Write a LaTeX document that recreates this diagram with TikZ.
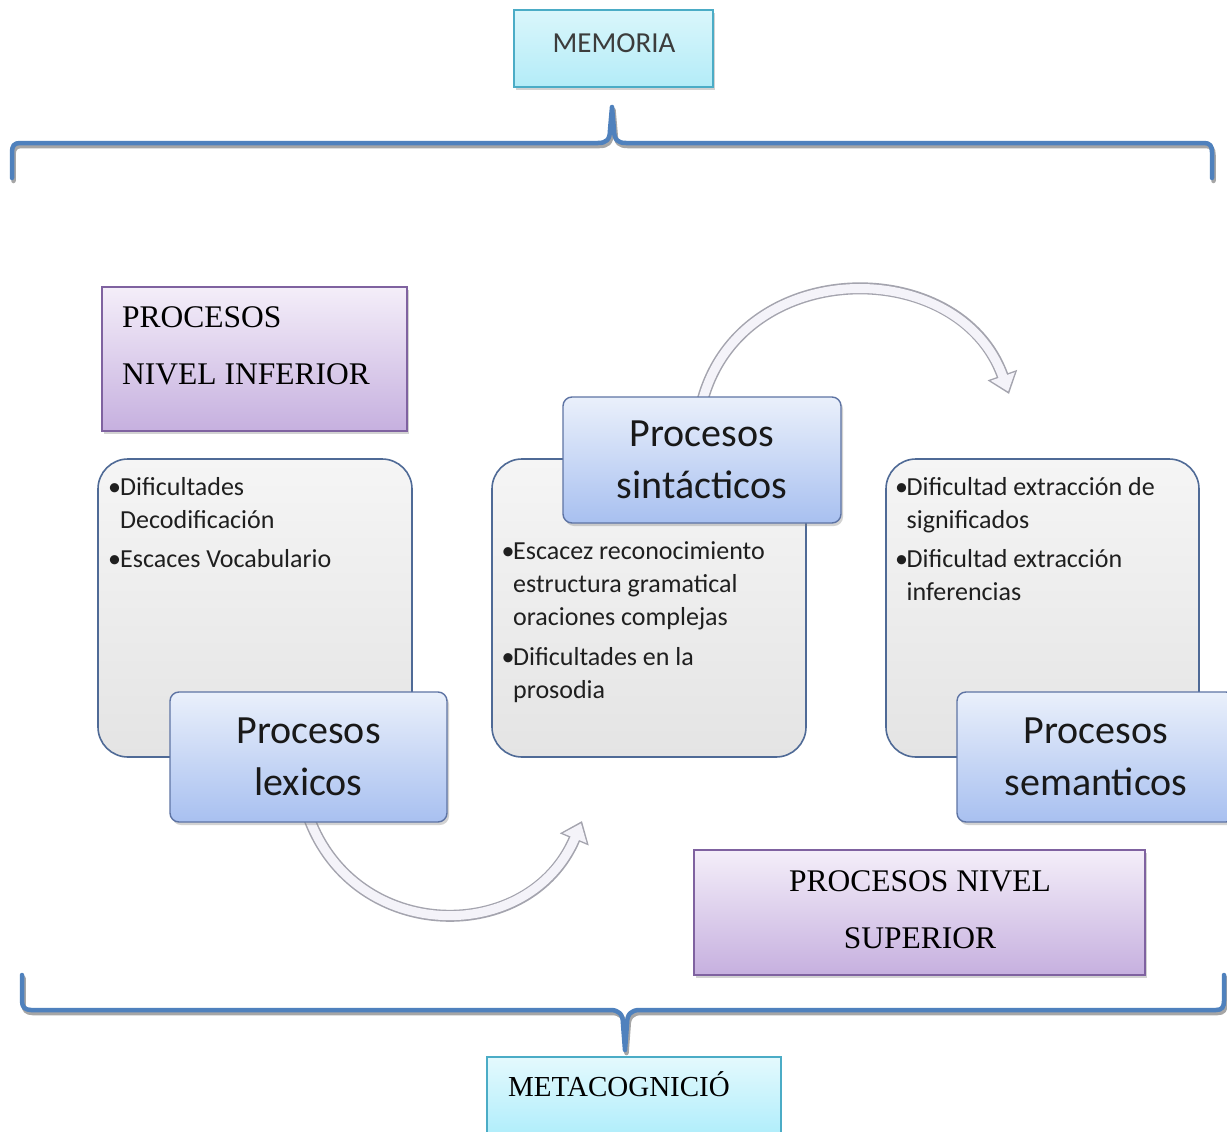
\documentclass[tikz,border=0pt]{standalone}
\usepackage{fontspec}
\setmainfont{Liberation Serif}
\newfontfamily\calfont{Carlito}
\usetikzlibrary{shadows,arrows.meta}
\definecolor{braceblue}{HTML}{4F81BD}
\definecolor{cyantop}{HTML}{DAF6FB}
\definecolor{cyanbot}{HTML}{B3ECF8}
\definecolor{metatop}{HTML}{E4F9FD}
\definecolor{metabot}{HTML}{A8ECFB}
\definecolor{tealborder}{HTML}{4BACC6}
\definecolor{purptop}{HTML}{F4EEF9}
\definecolor{purpbot}{HTML}{C6B0DF}
\definecolor{purpborder}{HTML}{7F62A0}
\definecolor{greytop}{HTML}{F5F5F5}
\definecolor{greybot}{HTML}{E4E4E4}
\definecolor{greyborder}{HTML}{4F6A96}
\definecolor{bluetop}{HTML}{EAF0FB}
\definecolor{bluebot}{HTML}{A8C0F0}
\definecolor{blueborder}{HTML}{5E74A4}
\definecolor{arrowline}{HTML}{A4A4AE}
\definecolor{arrowfill}{HTML}{F4F3F9}
\definecolor{memtext}{HTML}{3C3C3C}
\pgfdeclarelayer{bgzero}
\pgfdeclarelayer{background}
\pgfsetlayers{bgzero,background,main}
\begin{document}
\begin{tikzpicture}[x=1pt,y=-1pt,
  shade/.style={drop shadow={shadow xshift=2pt,shadow yshift=-3pt,opacity=0.35}},
  cyanbox/.style={draw=tealborder,line width=1.5pt,top color=cyantop,bottom color=cyanbot,shade,inner sep=0pt},
  metabox/.style={draw=tealborder,line width=1.5pt,top color=metatop,bottom color=metabot,inner sep=0pt},
  purpbox/.style={draw=purpborder,line width=1.5pt,top color=purptop,bottom color=purpbot,shade,inner sep=0pt},
  greybox/.style={draw=greyborder,line width=1.6pt,top color=greytop,bottom color=greybot,rounded corners=30pt,inner sep=0pt},
  bluebox/.style={draw=blueborder,line width=1.4pt,top color=bluetop,bottom color=bluebot,rounded corners=9pt,shade,inner sep=0pt,
     font=\calfont\fontsize{40}{52}\selectfont,align=center,text=black!90},
  bullettext/.style={anchor=north west,inner sep=0pt,align=left,font=\calfont\fontsize{26}{33}\selectfont,text=black!88},
  seriftext/.style={inner sep=0pt,font=\fontsize{31.5}{57}\selectfont,text=black},
  bracepath/.style={draw=braceblue,line width=4.5pt,line join=round,line cap=round},
  braceshadow/.style={draw=black!35,line width=4.5pt,line join=round,line cap=round},
  arrowout/.style={draw=arrowline,line width=12pt,-{Triangle[length=20pt,width=30pt]}},
  arrowin/.style={draw=arrowfill,line width=9pt,shorten >=2.6pt,-{Triangle[length=16pt,width=24.5pt]}}
]
\begin{pgfonlayer}{bgzero}
\fill[white] (0,0) rectangle (1227,1132);
\end{pgfonlayer}
\useasboundingbox (0,0) rectangle (1227,1132);

% MEMORIA
\node[cyanbox,minimum width=199pt,minimum height=77pt] (mem) at (613.5,48.5) {};
\node[inner sep=0pt,font=\calfont\fontsize{29}{32}\selectfont,text=memtext] (memt) at (614,43) {MEMORIA};

% top brace
\draw[braceshadow,shift={(1.5,3)}] (12,178) -- (12,152) .. controls (12,146) and (14,143) .. (20,143) -- (598,143) .. controls (606,143) and (610,140) .. (610,130) -- (612,107) -- (614,130) .. controls (614,140) and (618,143) .. (626,143) -- (1204,143) .. controls (1210,143) and (1212,146) .. (1212,152) -- (1212,178);
\draw[bracepath] (12,178) -- (12,152) .. controls (12,146) and (14,143) .. (20,143) -- (598,143) .. controls (606,143) and (610,140) .. (610,130) -- (612,107) -- (614,130) .. controls (614,140) and (618,143) .. (626,143) -- (1204,143) .. controls (1210,143) and (1212,146) .. (1212,152) -- (1212,178);

% PROCESOS NIVEL INFERIOR
\node[purpbox,minimum width=305pt,minimum height=144pt] (inf) at (254.5,359) {};
\node[seriftext,anchor=north west,align=left] (inft) at (122,302) {\rule{0pt}{25pt}PROCESOS\\NIVEL INFERIOR};

% grey boxes
\node[greybox,minimum width=314pt,minimum height=298pt] (gl) at (255,608) {};
\node[greybox,minimum width=314pt,minimum height=298pt] (gm) at (649,608) {};
\node[greybox,minimum width=313pt,minimum height=298pt] (gr) at (1042.5,608) {};

\node[bullettext] (glt) at (108,473) {\rule{0pt}{22pt}\makebox[12pt][l]{•}Dificultades\\\hspace*{12pt}Decodificación\\[6pt]\makebox[12pt][l]{•}Escaces Vocabulario};
\node[bullettext] (gmt) at (501.5,537) {\rule{0pt}{22pt}\makebox[11.5pt][l]{•}Escacez reconocimiento\\\hspace*{11.5pt}estructura gramatical\\\hspace*{11.5pt}oraciones complejas\\[7pt]\makebox[11.5pt][l]{•}Dificultades en la\\\hspace*{11.5pt}prosodia};
\node[bullettext] (grt) at (895,473) {\rule{0pt}{22pt}\makebox[11.5pt][l]{•}Dificultad extracción de\\\hspace*{11.5pt}significados\\[6pt]\makebox[11.5pt][l]{•}Dificultad extracción\\\hspace*{11.5pt}inferencias};

% blue boxes
\node[bluebox,minimum width=277pt,minimum height=130pt] (lex) at (308.5,757) {Procesos\\lexicos};
\node[bluebox,minimum width=278pt,minimum height=126pt] (sin) at (702,460) {Procesos\\sintácticos};
\node[bluebox,minimum width=278pt,minimum height=130pt] (sem) at (1096,757) {Procesos\\semanticos};

% curved arrows
\coordinate (a1) at (582,821);
\coordinate (a2) at (1009,394);
\begin{pgfonlayer}{background}
\draw[arrowout] ([yshift=6pt]lex.south) .. controls (355,945) and (530,945) .. (a1);
\draw[arrowin] ([yshift=6pt]lex.south) .. controls (355,945) and (530,945) .. (a1);
\draw[arrowout] ([yshift=-6pt]sin.north) .. controls (740,255) and (960,255) .. (a2);
\draw[arrowin] ([yshift=-6pt]sin.north) .. controls (740,255) and (960,255) .. (a2);
\end{pgfonlayer}

% PROCESOS NIVEL SUPERIOR
\node[purpbox,minimum width=451pt,minimum height=125pt] (sup) at (919.5,912.5) {};
\node[seriftext,anchor=north,align=center] (supt) at (920,866) {\rule{0pt}{25pt}PROCESOS NIVEL\\SUPERIOR};

% bottom brace
\draw[braceshadow,shift={(1.5,3)}] (22,975) -- (22,1001) .. controls (22,1007) and (25,1010) .. (31,1010) -- (610,1010) .. controls (619,1010) and (623,1014) .. (623,1024) -- (625,1050) -- (627,1024) .. controls (627,1014) and (631,1010) .. (640,1010) -- (1216,1010) .. controls (1222,1010) and (1224,1007) .. (1224,1001) -- (1224,975);
\draw[bracepath] (22,975) -- (22,1001) .. controls (22,1007) and (25,1010) .. (31,1010) -- (610,1010) .. controls (619,1010) and (623,1014) .. (623,1024) -- (625,1050) -- (627,1024) .. controls (627,1014) and (631,1010) .. (640,1010) -- (1216,1010) .. controls (1222,1010) and (1224,1007) .. (1224,1001) -- (1224,975);

% METACOGNICIO
\node[metabox,minimum width=294pt,minimum height=90pt] (meta) at (634,1102) {};
\node[inner sep=0pt,anchor=base west,font=\fontsize{29}{32}\selectfont,text=black] (metat) at (508,1096) {METACOGNICIÓ};
\end{tikzpicture}
\end{document}
